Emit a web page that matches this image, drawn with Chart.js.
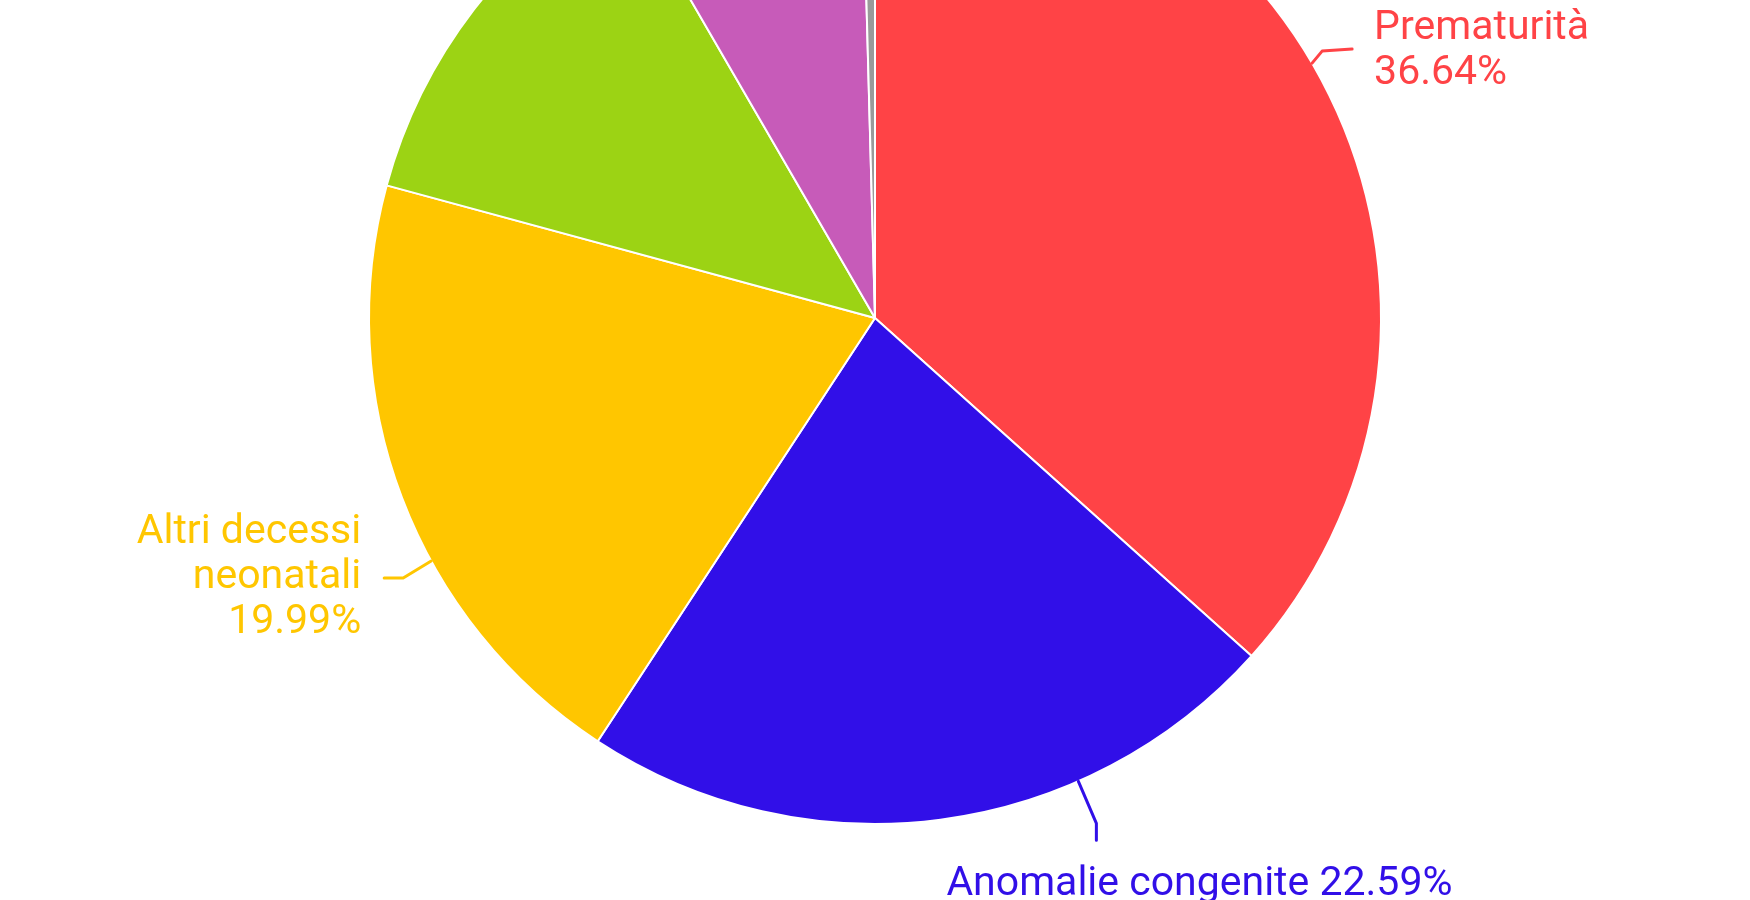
<!DOCTYPE html>
<html lang="it">
<head>
<meta charset="utf-8">
<title>Cause di mortalità infantile</title>
<script src="https://cdn.jsdelivr.net/npm/chart.js@4/dist/chart.umd.min.js"></script>
<style>
  html, body { margin: 0; padding: 0; background: #fff; overflow: hidden; }
  #contenitore { position: absolute; left: 0; top: -189px; width: 1750px; height: 1089px; }
</style>
</head>
<body>
<div id="contenitore"><canvas id="grafico"></canvas></div>
<script>
// dati (percentuali)
var cause = ['Prematurità', 'Anomalie congenite', 'Altri decessi neonatali', 'Altre cause', 'Infezioni', 'Incidenti'];
var percentuali = [36.64, 22.59, 19.99, 12.42, 7.93, 0.43];
var colori = ['#ff4346', '#310fe8', '#ffc600', '#9cd314', '#c75bb9', '#9a9a9a'];

// testo delle etichette, riga per riga
var righeEtichette = [
  ['Prematurità', '36.64%'],
  ['Anomalie congenite 22.59%'],
  ['Altri decessi', 'neonatali', '19.99%'],
  ['Altre cause', '12.42%'],
  ['Infezioni', '7.93%'],
  ['Incidenti', '0.43%']
];

// posizione delle linee guida: punto sull'arco e due segmenti
var guide = [
  { frazione: 0.453, seg1: [10, -12], seg2: [30, -2], testo: [22, 2], allinea: 'left' },
  { frazione: 0.30, seg1: [18, 42], seg2: [0, 17], testo: [-150, 44], allinea: 'left' },
  { frazione: 0.39, seg1: [-28, 17], seg2: [-19, 0], testo: [-23, 0], allinea: 'right' },
  { frazione: 0.9, seg1: [-14, -20], seg2: [-20, 0], testo: [-20, 0], allinea: 'right' },
  { frazione: 0.5, seg1: [-6, -20], seg2: [-20, 0], testo: [-20, 0], allinea: 'right' },
  { frazione: 0.5, seg1: [0, -20], seg2: [20, 0], testo: [20, 0], allinea: 'left' }
];

var etichette = {
  id: 'etichette',
  afterDatasetsDraw: function(chart) {
    var ctx = chart.ctx;
    var archi = chart.getDatasetMeta(0).data;
    ctx.save();
    ctx.font = '41px Roboto';
    ctx.lineWidth = 3;
    ctx.lineCap = 'round';
    ctx.lineJoin = 'round';
    archi.forEach(function(arco, i) {
      var g = guide[i];
      var a = arco.startAngle + (arco.endAngle - arco.startAngle) * g.frazione;
      var x0 = arco.x + Math.cos(a) * arco.outerRadius;
      var y0 = arco.y + Math.sin(a) * arco.outerRadius;
      var x1 = x0 + g.seg1[0], y1 = y0 + g.seg1[1];
      var x2 = x1 + g.seg2[0], y2 = y1 + g.seg2[1];
      ctx.strokeStyle = colori[i];
      ctx.beginPath();
      ctx.moveTo(x0, y0);
      ctx.lineTo(x1, y1);
      ctx.lineTo(x2, y2);
      ctx.stroke();

      var righe = righeEtichette[i];
      var interlinea = 45;
      var xt = x2 + g.testo[0];
      var yt = y2 + g.testo[1] - (righe.length - 1) * interlinea / 2;
      ctx.fillStyle = colori[i];
      ctx.textAlign = g.allinea;
      ctx.textBaseline = 'middle';
      righe.forEach(function(riga, k) {
        ctx.fillText(riga, xt, yt + k * interlinea);
      });
    });
    ctx.restore();
  }
};

var ctx = document.getElementById('grafico').getContext('2d');
var myChart = new Chart(ctx, {
  type: 'pie',
  data: {
    labels: cause,
    datasets: [{
      data: percentuali,
      backgroundColor: colori,
      borderColor: '#ffffff',
      borderWidth: 2
    }]
  },
  options: {
    responsive: true,
    maintainAspectRatio: false,
    animation: false,
    layout: { padding: { left: 368, right: 368, top: 0, bottom: 75 } },
    plugins: {
      legend: { display: false },
      tooltip: { enabled: false }
    }
  },
  plugins: [etichette]
});
</script>
</body>
</html>
